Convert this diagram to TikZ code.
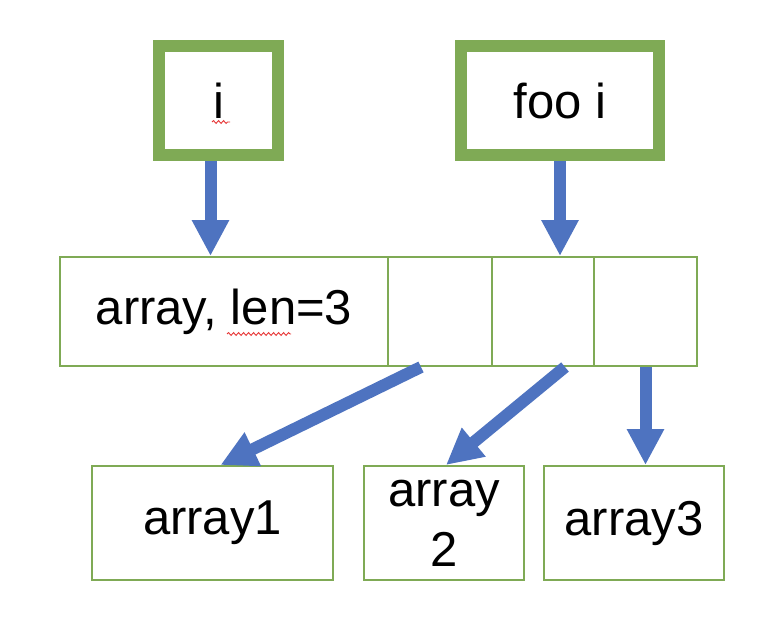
\documentclass[tikz,border=0pt]{standalone}
\usepackage{fontspec}
\setmainfont{Liberation Sans}
\definecolor{boxgreen}{RGB}{127, 170, 85}
\definecolor{ptrblue}{RGB}{78, 115, 192}
\definecolor{spellred}{RGB}{230, 50, 50}
\usetikzlibrary{arrows.meta, decorations.pathmorphing}

\begin{document}
\begin{tikzpicture}[x=1pt, y=-1pt,
  varbox/.style={draw=boxgreen, line width=12pt, fill=white, inner sep=0pt, minimum height=109pt, font=\fontsize{49}{58}\selectfont},
  cell/.style={draw=boxgreen, line width=2pt, inner sep=0pt, minimum height=109pt, font=\fontsize{49}{58}\selectfont},
  leaf/.style={draw=boxgreen, line width=2pt, inner sep=0pt, minimum height=114pt, align=center, font=\fontsize{49}{60}\selectfont},
  ptr/.style={draw=ptrblue, line width=12pt, -{Triangle[width=35pt, length=36pt]}},
  squiggle/.style={draw=spellred, line width=0.9pt, decorate, decoration={snake, amplitude=1.4pt, segment length=5pt}}]
  \useasboundingbox (0,0) rectangle (780,634);

  % The variables
  \node[varbox, minimum width=119pt] (vi) at (218.5, 100.5) {i};
  \node[varbox, minimum width=198pt] (vfoo) at (560, 100.5) {foo i};

  % The array header and its slots
  \node[cell, minimum width=328pt] (head) at (224, 311.5) {array, len=3};
  \node[cell, minimum width=104pt] (slot1) at (440, 311.5) {};
  \node[cell, minimum width=102pt] (slot2) at (543, 311.5) {};
  \node[cell, minimum width=103pt] (slot3) at (645.5, 311.5) {};

  % The element arrays
  \node[leaf, minimum width=241pt] (arr1) at (212.5, 523) {array1};
  \node[leaf, minimum width=160pt] (arr2) at (444, 523) {array\\2};
  \node[leaf, minimum width=180pt] (arr3) at (634, 523) {array3};

  % Pointers
  \draw[ptr] ([xshift=-8pt]vi.south) -- ([xshift=-8pt]vi.south |- head.north);
  \draw[ptr] (vfoo.south) -- (vfoo.south |- slot2.north);
  \draw[ptr] ([xshift=-19pt]slot1.south) -- ([xshift=8pt]arr1.north);
  \draw[ptr] ([xshift=22pt]slot2.south) -- ([xshift=2pt]arr2.north);
  \draw[ptr] (slot3.south) -- (slot3.south |- arr3.north);

  % Spell-check marks
  \draw[squiggle] (212, 122) -- (230, 122);
  \draw[squiggle] (227, 334) -- (291, 334);
\end{tikzpicture}
\end{document}
